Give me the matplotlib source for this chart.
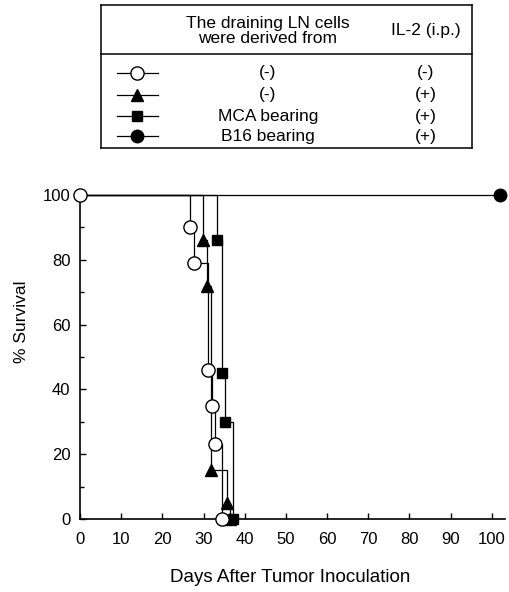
import numpy as np
import matplotlib
matplotlib.use("Agg")
import matplotlib.pyplot as plt

plt.rcParams['font.family'] = ['Liberation Sans', 'DejaVu Sans']

# survival curves (day, % survival)
ctrl_days = [0, 26.7, 27.7, 31.1, 32.0, 32.8, 34.5]
ctrl_surv = [100, 90, 79, 46, 35, 23, 0]
il2_days = [0, 29.9, 30.8, 31.8, 35.7, 36.5]
il2_surv = [100, 86, 72, 15, 5, 0]
mca_days = [0, 33.3, 34.5, 35.2, 37.1]
mca_surv = [100, 86, 45, 30, 0]
b16_days = [0, 102]
b16_surv = [100, 100]

donor_labels = ['(-)', '(-)', 'MCA bearing', 'B16 bearing']
il2_labels = ['(-)', '(+)', '(+)', '(+)']

W, H = 510, 592
fig = plt.figure(figsize=(W / 100, H / 100), dpi=100)
ax = fig.add_axes([80 / W, 1 - 519 / H, 425 / W, (519 - 195) / H])

series = [
    (ctrl_days, ctrl_surv, dict(marker='o', mfc='white', ms=9.5)),
    (il2_days, il2_surv, dict(marker='^', mfc='black', ms=9)),
    (mca_days, mca_surv, dict(marker='s', mfc='black', ms=7.5)),
    (b16_days, b16_surv, dict(marker='o', mfc='black', ms=9)),
]
for i, (d, s, mk) in enumerate(series):
    ax.step(d, s, where='post', color='black', lw=0.9, zorder=2, clip_on=False)
    start = 0 if i == 0 else 1
    ax.plot(d[start:], s[start:], ls='none', mec='black', mew=1.0,
            zorder=5 - i * 0.1, clip_on=False, **mk)

ax.set_xlim(0, 103.2)
ax.set_ylim(0, 100)
ax.set_xticks(np.arange(0, 101, 10))
ax.set_yticks(np.arange(0, 101, 20))
ax.set_yticks(np.arange(10, 100, 20), minor=True)
ax.tick_params(direction='in', length=4, width=1, labelsize=12)
ax.tick_params(axis='x', pad=9)
ax.tick_params(axis='y', pad=7)
ax.tick_params(which='minor', direction='in', length=3, width=1)
ax.spines['top'].set_visible(False)
ax.spines['right'].set_visible(False)
ax.spines['left'].set_linewidth(1.2)
ax.spines['bottom'].set_linewidth(1.2)

fig.text(290 / W, 1 - 578 / H, 'Days After Tumor Inoculation',
         ha='center', va='center', fontsize=13.5)
fig.text(22 / W, 1 - 322 / H, '% Survival', rotation=90,
         ha='center', va='center', fontsize=12.5)

# legend table, drawn in pixel coordinates
leg = fig.add_axes([0, 0, 1, 1], zorder=-1)
leg.set_xlim(0, W)
leg.set_ylim(H, 0)
leg.axis('off')
x0, x1 = 101, 472
for y in (5, 54, 148):
    leg.plot([x0, x1], [y, y], color='black', lw=1.1)
for x in (x0, x1):
    leg.plot([x, x], [5, 148], color='black', lw=1.1)
leg.text(268, 31, 'The draining LN cells\nwere derived from', ha='center',
         va='center', fontsize=12.5, linespacing=1.05)
leg.text(426, 30, 'IL-2 (i.p.)', ha='center', va='center', fontsize=12.5)

row_y = [73, 95, 116, 136]
for (d, s, mk), ry, lab1, lab2 in zip(series, row_y, donor_labels, il2_labels):
    leg.plot([117, 158], [ry, ry], color='black', lw=0.9)
    leg.plot([137], [ry], ls='none', mec='black', mew=1.0, **mk)
    leg.text(268, ry, lab1, ha='center', va='center', fontsize=12.5)
    leg.text(426, ry, lab2, ha='center', va='center', fontsize=12.5)

fig.savefig('out.png', dpi=100)
